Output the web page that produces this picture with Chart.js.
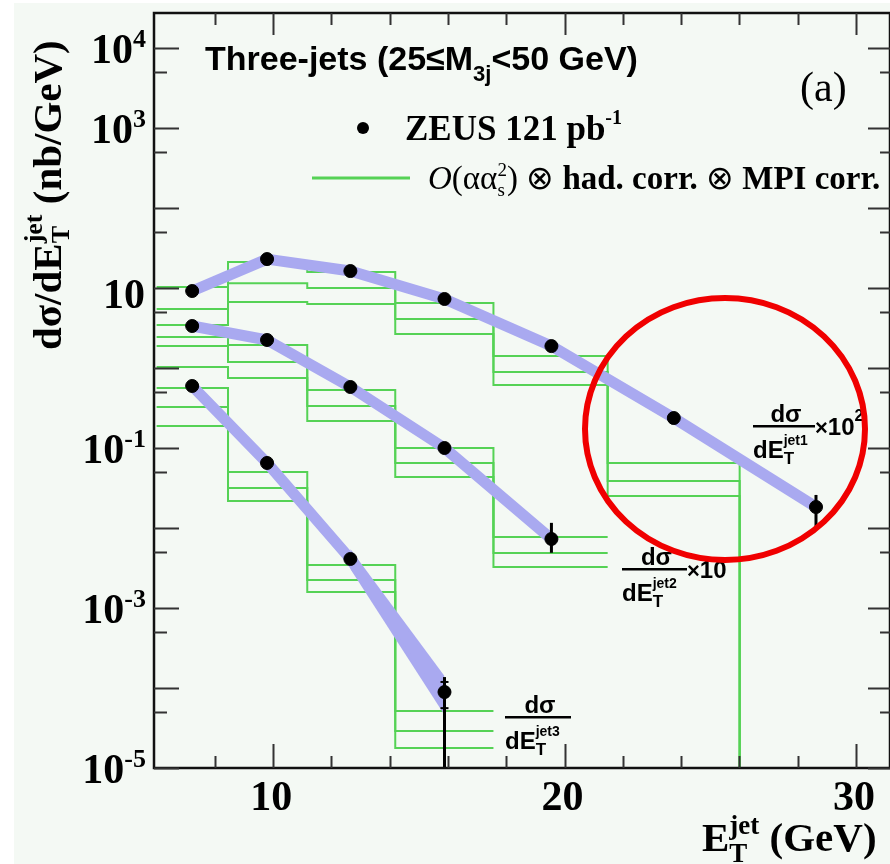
<!DOCTYPE html>
<html>
<head>
<meta charset="utf-8">
<script src="https://cdn.jsdelivr.net/npm/chart.js@4.4.1/dist/chart.umd.min.js"></script>
<style>
  html, body { margin: 0; padding: 0; background: #fff; }
  canvas { display: block; }
</style>
</head>
<body>
<canvas id="grafico" width="890" height="864"></canvas>
<script>
// Posições E_T^jet (GeV) das medidas
const etPontos = [7.22, 9.79, 12.65, 15.88, 19.55, 23.75, 28.63];

// Seções de choque medidas (nb/GeV)
const sigmaJet1 = [9.17, 23.0, 16.3, 7.29, 1.88, 0.237, 0.0183]; // x 10^2
const sigmaJet2 = [3.35, 2.24, 0.579, 0.100, 0.00729];           // x 10
const sigmaJet3 = [0.596, 0.065, 0.0041, 8.9e-5];

// Barras de erro visíveis: [índice, mínimo, máximo]
const erroJet1 = [[0, 7.8, 10.6], [6, 0.0103, 0.0259]];
const erroJet2 = [[4, 0.0049, 0.0116]];
const erroJet3 = [[3, 1e-6, 1.37e-4]];
const erroEstatJet3 = [[3, 5.6e-5, 1.19e-4]];

// Limites dos bins do histograma teórico
const limitesBins = [6, 8.45, 11.17, 14.19, 17.56, 21.48, 26.01, 31.5];

// Previsão O(αα_s²) x correções: três linhas por série
const teoJet1A = [10.3, 21.1, 15.8, 6.49, 1.41, 0.0649, 1e-5];
const teoJet1B = [5.46, 11.5, 10.0, 4.10, 0.891, 0.0387, 1e-5];
const teoJet1C = [3.45, 6.68, 6.31, 2.66, 0.613, 0.0251, 1e-5];
const teoJet2A = [2.44, 1.94, 0.531, 0.100, 0.00772];
const teoJet2B = [1.88, 1.19, 0.335, 0.0649, 0.00487];
const teoJet2C = [1.03, 0.750, 0.218, 0.0434, 0.00326];
const teoJet3A = [0.562, 0.0501, 0.00345, 5.16e-5];
const teoJet3B = [0.325, 0.0316, 0.00224, 2.90e-5];
const teoJet3C = [0.188, 0.0218, 0.00158, 1.78e-5];

// Alargamento da faixa azul no último ponto do jet3
const faixaJet3X = [12.65, 15.88];
const faixaJet3Sup = [0.00546, 1.41e-4];
const faixaJet3Inf = [0.00307, 4.6e-5];

// Rótulos dos eixos
const rotulosX = [10, 20, 30];
const expoentesY = [4, 3, 1, -1, -3, -5];

const VERDE = '#55d255';
const AZUL = '#a9a9f0';
const serifB = n => 'bold ' + n + 'px "Liberation Serif"';
const serif = n => n + 'px "Liberation Serif"';
const sansB = n => 'bold ' + n + 'px "Liberation Sans"';

function pontos(xs, ys) {
  return ys.map((y, i) => ({ x: xs[i], y: y }));
}

function histograma(valores) {
  const pts = valores.map((v, i) => ({ x: limitesBins[i], y: v }));
  pts.push({ x: limitesBins[valores.length], y: valores[valores.length - 1] });
  return pts;
}

function linhaVerde(valores) {
  return {
    type: 'line', data: histograma(valores), stepped: 'before',
    borderColor: VERDE, borderWidth: 2, pointRadius: 0, fill: false, order: 3
  };
}

function faixa(ys) {
  return {
    type: 'line', data: pontos(etPontos, ys), borderColor: AZUL, borderWidth: 11,
    borderCapStyle: 'butt', borderJoinStyle: 'round', pointRadius: 0, fill: false, order: 2
  };
}

function medidas(ys) {
  return {
    type: 'scatter', data: pontos(etPontos, ys), backgroundColor: '#000',
    borderColor: '#000', pointRadius: 6.5, order: 0
  };
}

// Texto com índices e expoentes: partes {t, f, dy, empilha}
function medirRico(ctx, partes) {
  let x = 0, inicio = 0, largAnt = 0;
  for (const p of partes) {
    ctx.font = p.f;
    const w = ctx.measureText(p.t).width;
    if (p.empilha) { largAnt = Math.max(largAnt, w); x = inicio + largAnt; }
    else { inicio = x; x += w; largAnt = w; }
  }
  return x;
}

function textoRico(ctx, x0, y, partes, alinhar) {
  const total = medirRico(ctx, partes);
  let x = alinhar === 'right' ? x0 - total : alinhar === 'center' ? x0 - total / 2 : x0;
  let inicio = x, largAnt = 0;
  ctx.textAlign = 'left';
  ctx.textBaseline = 'alphabetic';
  for (const p of partes) {
    ctx.font = p.f;
    const w = ctx.measureText(p.t).width;
    if (p.empilha) {
      ctx.fillText(p.t, inicio, y + (p.dy || 0));
      largAnt = Math.max(largAnt, w);
      x = inicio + largAnt;
    } else {
      inicio = x;
      ctx.fillText(p.t, x, y + (p.dy || 0));
      x += w;
      largAnt = w;
    }
  }
}

// Rótulo dσ/dE_T^jetN x fator
function rotuloSerie(ctx, xEsq, yBarra, larg, n, fator, expo) {
  ctx.fillStyle = '#000';
  ctx.font = sansB(24);
  ctx.textAlign = 'center';
  ctx.fillText('dσ', xEsq + larg / 2 + 2, yBarra - 4);
  ctx.fillRect(xEsq, yBarra - 1, larg, 2.5);
  textoRico(ctx, xEsq, yBarra + 32, [
    { t: 'dE', f: sansB(24) },
    { t: 'jet' + n, f: sansB(14), dy: -13 },
    { t: 'T', f: sansB(17), dy: 6, empilha: true }
  ]);
  if (fator) {
    const partes = [{ t: '×', f: sansB(22) }, { t: fator, f: sansB(24) }];
    if (expo) partes.push({ t: expo, f: sansB(16), dy: -14 });
    textoRico(ctx, xEsq + larg, yBarra + 9, partes);
  }
}

const decoracao = {
  id: 'decoracao',
  beforeDraw(chart) {
    const ctx = chart.ctx;
    ctx.save();
    ctx.fillStyle = '#ffffff';
    ctx.fillRect(0, 0, chart.width, chart.height);
    ctx.fillStyle = '#f4f9f4';
    ctx.fillRect(14, 3, chart.width - 14, chart.height - 3);
    ctx.restore();
  },
  afterDatasetsDraw(chart) {
    const ctx = chart.ctx;
    const sx = chart.scales.x, sy = chart.scales.y;
    const a = chart.chartArea;
    ctx.save();
    ctx.beginPath();
    ctx.rect(a.left, a.top, a.right - a.left, a.bottom - a.top);
    ctx.clip();
    ctx.strokeStyle = '#000';
    ctx.lineWidth = 3;
    const barras = (lista) => lista.forEach(([i, lo, hi]) => {
      const px = sx.getPixelForValue(etPontos[i]);
      ctx.beginPath();
      ctx.moveTo(px, sy.getPixelForValue(lo));
      ctx.lineTo(px, sy.getPixelForValue(hi));
      ctx.stroke();
    });
    barras(erroJet1);
    barras(erroJet2);
    barras(erroJet3);
    ctx.lineWidth = 2;
    erroEstatJet3.forEach(([i, lo, hi]) => {
      const px = sx.getPixelForValue(etPontos[i]);
      [lo, hi].forEach(v => {
        const py = sy.getPixelForValue(v);
        ctx.beginPath();
        ctx.moveTo(px - 4, py);
        ctx.lineTo(px + 4, py);
        ctx.stroke();
      });
    });
    ctx.restore();
  },
  afterDraw(chart) {
    const ctx = chart.ctx;
    const sx = chart.scales.x, sy = chart.scales.y;
    const a = chart.chartArea;
    ctx.save();

    // moldura
    ctx.strokeStyle = '#111';
    ctx.lineWidth = 2.5;
    ctx.strokeRect(a.left, a.top, a.right - a.left, a.bottom - a.top);

    // marcas do eixo y (dentro da moldura, dos dois lados)
    ctx.strokeStyle = '#333';
    ctx.lineWidth = 2;
    for (let n = -5; n <= 4; n++) {
      const marcas = [[Math.pow(10, n), 25, 22]];
      if (n > -5) marcas.push([0.5 * Math.pow(10, n), 13, 10]);
      marcas.forEach(([v, lEsq, lDir]) => {
        const py = Math.round(sy.getPixelForValue(v)) + 0.5;
        ctx.beginPath();
        ctx.moveTo(a.left, py); ctx.lineTo(a.left + lEsq, py);
        ctx.moveTo(a.right, py); ctx.lineTo(a.right - lDir, py);
        ctx.stroke();
      });
    }
    // marcas do eixo x (embaixo e em cima)
    for (let v = 8; v <= 30; v += 2) {
      const longo = v % 10 === 0;
      const px = Math.round(sx.getPixelForValue(v)) + 0.5;
      ctx.beginPath();
      ctx.moveTo(px, a.bottom); ctx.lineTo(px, a.bottom - (longo ? 24 : 12));
      ctx.moveTo(px, a.top); ctx.lineTo(px, a.top + (longo ? 22 : 12));
      ctx.stroke();
    }

    // rótulos dos eixos
    ctx.fillStyle = '#000';
    expoentesY.forEach((e) => {
      const py = sy.getPixelForValue(Math.pow(10, e));
      if (e === 1) {
        textoRico(ctx, 145, py + 20, [{ t: '10', f: serifB(42) }], 'right');
      } else {
        textoRico(ctx, 146, py + 15, [{ t: '10', f: serifB(42) }, { t: String(e), f: serifB(26), dy: -16 }], 'right');
      }
    });
    ctx.font = serifB(42);
    ctx.textAlign = 'center';
    rotulosX.forEach(v => ctx.fillText(String(v), sx.getPixelForValue(v) - 2, 810));

    // título do eixo x
    textoRico(ctx, 702, 851, [
      { t: 'E', f: serifB(41) },
      { t: 'jet', f: serifB(27), dy: -17 },
      { t: 'T', f: serifB(27), dy: 11, empilha: true },
      { t: ' (GeV)', f: serifB(41) }
    ]);

    // título do eixo y
    ctx.save();
    ctx.translate(61, 350);
    ctx.rotate(-Math.PI / 2);
    textoRico(ctx, 0, 0, [
      { t: 'dσ/dE', f: serifB(41) },
      { t: 'jet', f: serifB(26), dy: -19 },
      { t: 'T', f: serifB(26), dy: 8, empilha: true },
      { t: ' (nb/GeV)', f: serifB(41) }
    ]);
    ctx.restore();

    // título e legenda
    textoRico(ctx, 205, 70, [
      { t: 'Three-jets (25≤M', f: sansB(34) },
      { t: '3j', f: sansB(22), dy: 11 },
      { t: '<50 GeV)', f: sansB(34) }
    ]);
    ctx.font = serif(42);
    ctx.textAlign = 'left';
    ctx.fillText('(a)', 800, 101);

    ctx.beginPath();
    ctx.arc(363, 128, 6, 0, 2 * Math.PI);
    ctx.fill();
    textoRico(ctx, 405, 140, [
      { t: 'ZEUS 121 pb', f: serifB(35) },
      { t: '-1', f: serifB(20), dy: -16 }
    ]);
    ctx.strokeStyle = VERDE;
    ctx.lineWidth = 3;
    ctx.beginPath();
    ctx.moveTo(312, 178); ctx.lineTo(410, 178);
    ctx.stroke();
    textoRico(ctx, 428, 189, [
      { t: 'O', f: 'italic ' + serif(33) },
      { t: '(αα', f: serif(33) },
      { t: '2', f: serif(19), dy: -13 },
      { t: 's', f: serif(19), dy: 7, empilha: true },
      { t: ') ⊗ ', f: serif(33) },
      { t: 'had. corr. ', f: serifB(33) },
      { t: '⊗ ', f: serif(33) },
      { t: 'MPI corr.', f: serifB(33) }
    ]);

    // rótulos das séries
    rotuloSerie(ctx, 753, 426, 62, 1, '10', '2');
    rotuloSerie(ctx, 622, 569, 65, 2, '10', '');
    rotuloSerie(ctx, 505, 717, 66, 3, '', '');

    // destaque em vermelho
    ctx.strokeStyle = '#f00000';
    ctx.lineWidth = 6;
    ctx.beginPath();
    ctx.ellipse(725, 429, 140, 131, 0, 0, 2 * Math.PI);
    ctx.stroke();

    ctx.restore();
  }
};

new Chart(document.getElementById('grafico'), {
  type: 'line',
  data: {
    datasets: [
      medidas(sigmaJet1),
      medidas(sigmaJet2),
      medidas(sigmaJet3),
      faixa(sigmaJet1),
      faixa(sigmaJet2),
      faixa(sigmaJet3),
      {
        type: 'line', data: pontos(faixaJet3X, faixaJet3Sup), borderWidth: 0,
        pointRadius: 0, backgroundColor: AZUL, fill: '+1', order: 2
      },
      {
        type: 'line', data: pontos(faixaJet3X, faixaJet3Inf), borderWidth: 0,
        pointRadius: 0, fill: false, order: 2
      },
      linhaVerde(teoJet1A), linhaVerde(teoJet1B), linhaVerde(teoJet1C),
      linhaVerde(teoJet2A), linhaVerde(teoJet2B), linhaVerde(teoJet2C),
      linhaVerde(teoJet3A), linhaVerde(teoJet3B), linhaVerde(teoJet3C)
    ]
  },
  options: {
    responsive: false,
    animation: false,
    devicePixelRatio: 1,
    layout: { autoPadding: false, padding: { left: 154, top: 13, right: 0, bottom: 96 } },
    plugins: { legend: { display: false }, tooltip: { enabled: false } },
    scales: {
      x: { type: 'linear', display: false, min: 5.91, max: 31.17 },
      y: { type: 'logarithmic', display: false, min: 1e-5, max: 27400 }
    }
  },
  plugins: [decoracao]
});
</script>
</body>
</html>
